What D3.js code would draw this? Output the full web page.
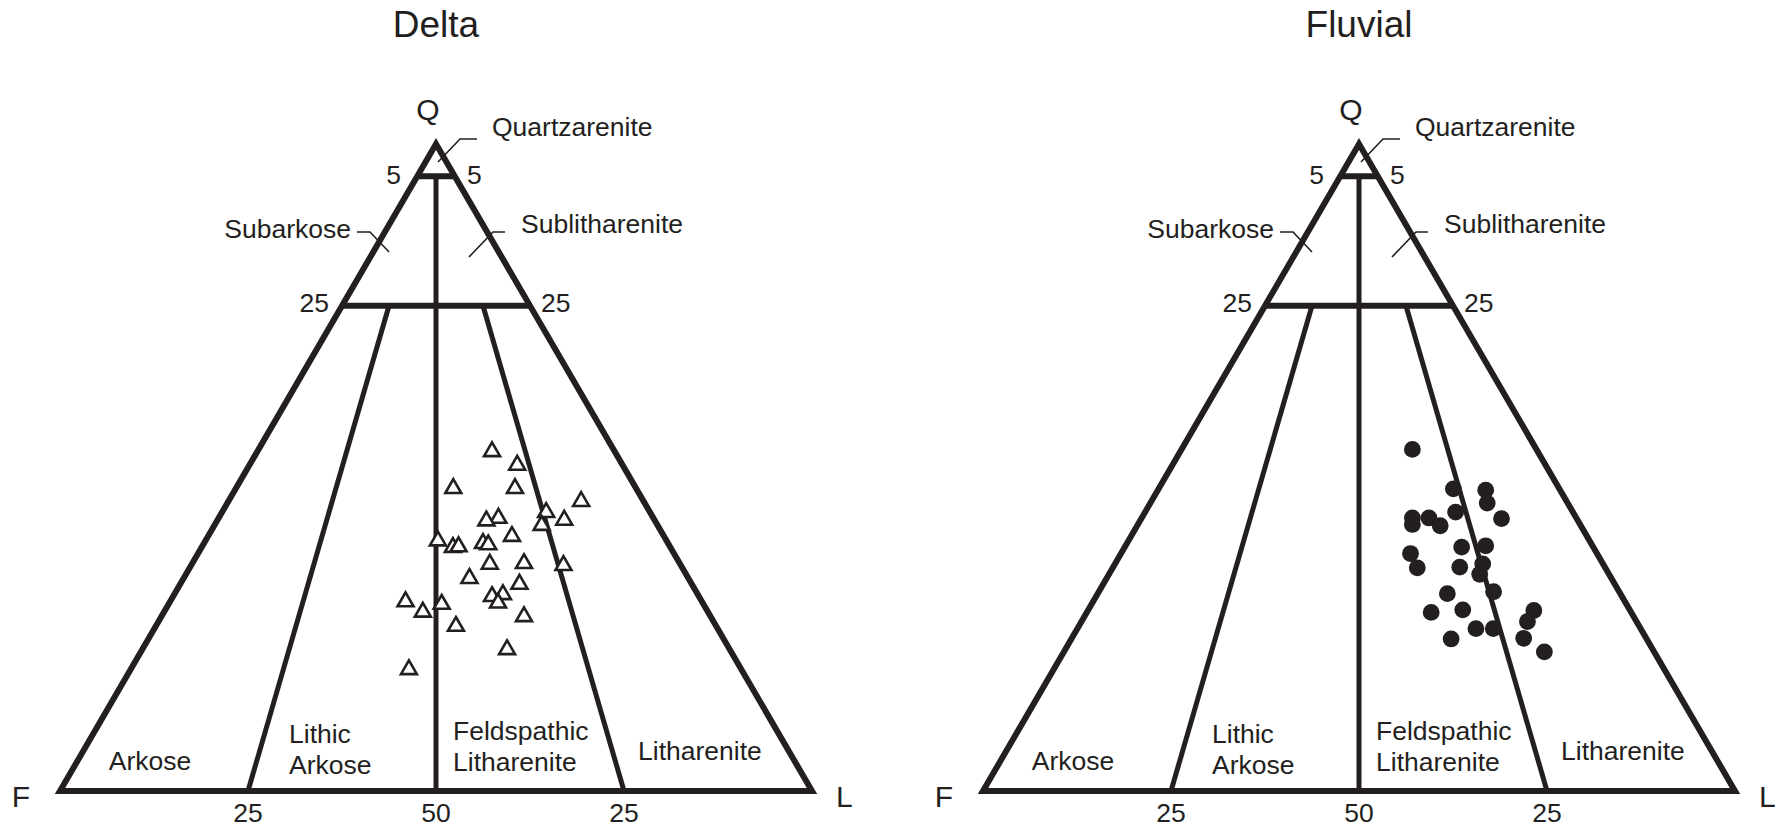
<!DOCTYPE html>
<html>
<head>
<meta charset="utf-8">
<script src="https://cdn.jsdelivr.net/npm/d3@7"></script>
<style>
  body { margin: 0; background: #fff; }
  text { font-family: "Liberation Sans", Arial, sans-serif; fill: #231f20; }
</style>
</head>
<body>
<script>
// ternary compositions in percent: Q (quartz), F (feldspar), L (lithics)
var deltaQ = [52.7, 50.6, 47.0, 47.0, 45.0, 43.3, 42.1, 42.4, 42.0, 41.3, 39.6, 38.9, 37.9, 38.0, 38.5, 38.3,
              35.3, 35.4, 35.1, 33.1, 32.2, 30.3, 30.6, 29.3, 29.5, 29.1, 27.9, 27.2, 25.7, 22.1, 19.0];
var deltaF = [16.2, 13.9, 24.2, 16.0, 8.2, 13.7, 11.9, 20.5, 22.3, 15.3, 20.1, 30.3, 28.8, 28.0, 24.5, 23.9,
              25.2, 20.6, 15.5, 29.0, 22.8, 27.4, 25.8, 27.1, 39.3, 34.7, 37.8, 24.7, 34.5, 29.5, 44.1];
var deltaL = [31.1, 35.5, 28.8, 37.0, 46.8, 43.0, 46.0, 37.1, 35.7, 43.4, 40.3, 30.8, 33.3, 34.0, 37.0, 37.8,
              39.5, 44.0, 49.4, 37.9, 45.0, 42.3, 43.6, 43.6, 31.2, 36.2, 34.3, 48.1, 39.8, 48.4, 36.9];

var fluvialQ = [52.8, 46.7, 46.5, 44.5, 42.2, 41.2, 42.2, 41.0, 43.1, 42.1, 36.7, 34.5, 37.7, 37.9,
                34.6, 35.1, 33.5, 30.8, 30.5, 27.6, 28.0, 27.9, 26.2, 25.1, 25.1, 23.5, 23.6, 21.5];
var fluvialF = [16.5, 14.1, 9.9, 10.7, 21.8, 22.3, 19.6, 18.7, 15.6, 10.0, 24.8, 25.0, 17.5, 14.2,
                19.3, 16.0, 17.2, 16.7, 23.0, 26.6, 22.2, 12.8, 14.5, 21.9, 19.6, 26.0, 16.3, 14.6];
var fluvialL = [30.7, 39.2, 43.6, 44.8, 36.0, 36.5, 38.2, 40.3, 41.3, 47.9, 38.5, 40.5, 44.8, 47.9,
                46.1, 48.9, 49.3, 52.5, 46.5, 45.8, 49.8, 59.3, 59.3, 53.0, 55.3, 50.5, 60.1, 63.9];

var panelTitles = ["Delta", "Fluvial"];
var qTicks = [95, 75];        // Q boundaries (labelled 5 and 25 from the top)
var baseTicks = ["25", "50", "25"];

var ink = "#231f20";
var svg = d3.select("body").append("svg").attr("width", 1776).attr("height", 828);

function panel(cx, title, Q, F, L, marker) {
  var top = 144, base = 791;
  var halfW = 376;
  var y = d3.scaleLinear().domain([0, 100]).range([base, top]);
  var x = d3.scaleLinear().domain([-100, 100]).range([cx - halfW, cx + halfW]);
  function pt(q, f, l) { return [x(l - f), y(q)]; }

  var g = svg.append("g");
  var line = d3.line();

  // outline
  g.append("path")
    .attr("d", line([pt(100, 0, 0), pt(0, 100, 0), pt(0, 0, 100)]) + "Z")
    .attr("fill", "none").attr("stroke", ink).attr("stroke-width", 6).attr("stroke-linejoin", "miter");

  // Q = 95 and Q = 75 bars
  qTicks.forEach(function (q) {
    g.append("path")
      .attr("d", line([pt(q, 100 - q, 0), pt(q, 0, 100 - q)]))
      .attr("stroke", ink).attr("stroke-width", 6);
  });

  // F:L = 1:1 and the 3:1, 1:3 divides
  var divides = [
    [pt(95, 2.5, 2.5), pt(0, 50, 50)],
    [pt(75, 18.75, 6.25), pt(0, 75, 25)],
    [pt(75, 6.25, 18.75), pt(0, 25, 75)]
  ];
  divides.forEach(function (d) {
    g.append("path").attr("d", line(d)).attr("stroke", ink).attr("stroke-width", 5);
  });

  // leaders
  var leaders = [
    [[cx + 2, 162], [cx + 24, 139], [cx + 41, 139]],
    [[cx - 79, 232], [cx - 66, 232], [cx - 47, 252]],
    [[cx + 33, 257], [cx + 57, 232], [cx + 69, 232]]
  ];
  leaders.forEach(function (d) {
    g.append("path").attr("d", line(d)).attr("fill", "none").attr("stroke", ink).attr("stroke-width", 1.6);
  });

  function label(t, xx, yy, size, anchor) {
    g.append("text").attr("x", xx).attr("y", yy).attr("font-size", size)
      .attr("text-anchor", anchor || "start").text(t);
  }

  var fs = 26.5;
  label(title, cx, 37, 37, "middle");
  label("Q", cx - 8, 120, 30, "middle");
  label("Quartzarenite", cx + 56, 136, fs);
  label("5", cx - 35, 184, fs, "end");
  label("5", cx + 31, 184, fs);
  label("Subarkose", cx - 85, 238, fs, "end");
  label("Sublitharenite", cx + 85, 233, fs);
  label("25", cx - 107, 312, fs, "end");
  label("25", cx + 105, 312, fs);
  label("F", cx - 415, 807, 30, "middle");
  label("L", cx + 400, 807, 30);

  var baseX = [pt(0, 75, 25)[0], pt(0, 50, 50)[0], pt(0, 25, 75)[0]];
  baseTicks.forEach(function (t, i) { label(t, baseX[i], 822, fs, "middle"); });

  label("Arkose", cx - 286, 770, fs, "middle");
  label("Lithic", cx - 147, 743, fs);
  label("Arkose", cx - 147, 774, fs);
  label("Feldspathic", cx + 17, 740, fs);
  label("Litharenite", cx + 17, 771, fs);
  label("Litharenite", cx + 202, 760, fs);

  // samples
  var idx = d3.range(Q.length);
  if (marker === "triangle") {
    var sym = d3.symbol(d3.symbolTriangle, 110);
    g.selectAll("path.pt").data(idx).enter().append("path")
      .attr("class", "pt")
      .attr("d", sym)
      .attr("transform", function (i) { var p = pt(Q[i], F[i], L[i]); return "translate(" + p[0] + "," + (p[1] + 1.5) + ")"; })
      .attr("fill", "#fff").attr("stroke", ink).attr("stroke-width", 2.6);
  } else {
    g.selectAll("circle.pt").data(idx).enter().append("circle")
      .attr("class", "pt")
      .attr("cx", function (i) { return pt(Q[i], F[i], L[i])[0]; })
      .attr("cy", function (i) { return pt(Q[i], F[i], L[i])[1]; })
      .attr("r", 8.4)
      .attr("fill", ink);
  }
}

panel(436, panelTitles[0], deltaQ, deltaF, deltaL, "triangle");
panel(1359, panelTitles[1], fluvialQ, fluvialF, fluvialL, "circle");
</script>
</body>
</html>
